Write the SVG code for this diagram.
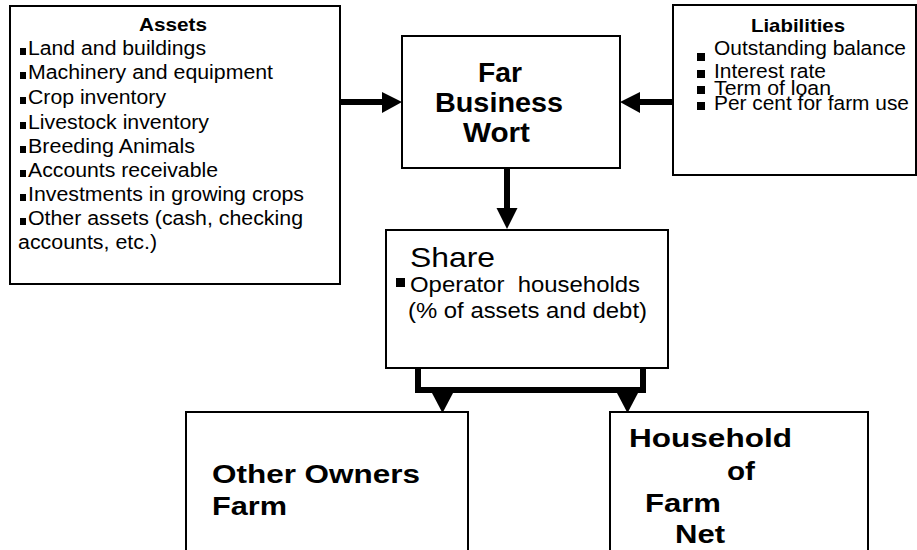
<svg xmlns="http://www.w3.org/2000/svg" width="917" height="550" viewBox="0 0 917 550">
<style>
.box{fill:#fff;stroke:#000;stroke-width:2}
.t{font-family:"Liberation Sans",Arial,sans-serif;fill:#000}
.b{font-weight:bold}
.con{stroke:#000;fill:none}
.head{fill:#000;stroke:none}
.bul{fill:#000}
</style>
<rect width="917" height="550" fill="#fff"/>
<g id="connectors">
<line class="con" x1="340" y1="102" x2="384" y2="102" stroke-width="6"/>
<polygon class="head" points="382,92 402,102 382,113"/>
<line class="con" x1="673" y1="102" x2="638" y2="102" stroke-width="6"/>
<polygon class="head" points="640,92 620,102 640,113"/>
<line class="con" x1="507" y1="168" x2="507" y2="210" stroke-width="6"/>
<polygon class="head" points="496.5,208 517.5,208 507,229"/>
<polyline class="con" points="418,366 418,390 643,390 643,366" stroke-width="6"/>
<polygon class="head" points="432,393 453,393 442.5,413"/>
<polygon class="head" points="617,393 638,393 627.5,413"/>
</g>
<g id="assets">
<rect class="box" x="10" y="6" width="330" height="278"/>
<text class="t b" x="173" y="31" font-size="19" text-anchor="middle" textLength="68" lengthAdjust="spacingAndGlyphs">Assets</text>
<g class="bul">
<rect x="20" y="48" width="6" height="7"/>
<rect x="20" y="72" width="6" height="7"/>
<rect x="20" y="97" width="6" height="7"/>
<rect x="20" y="122" width="6" height="7"/>
<rect x="20" y="146" width="6" height="7"/>
<rect x="20" y="170" width="6" height="7"/>
<rect x="20" y="194" width="6" height="7"/>
<rect x="20" y="218" width="6" height="7"/>
</g>
<g class="t" font-size="19.5">
<text x="28" y="55" textLength="178" lengthAdjust="spacingAndGlyphs">Land and buildings</text>
<text x="28" y="79" textLength="245" lengthAdjust="spacingAndGlyphs">Machinery and equipment</text>
<text x="28" y="104" textLength="138" lengthAdjust="spacingAndGlyphs">Crop inventory</text>
<text x="28" y="129" textLength="181" lengthAdjust="spacingAndGlyphs">Livestock inventory</text>
<text x="28" y="153" textLength="167" lengthAdjust="spacingAndGlyphs">Breeding Animals</text>
<text x="28" y="177" textLength="190" lengthAdjust="spacingAndGlyphs">Accounts receivable</text>
<text x="28" y="201" textLength="276" lengthAdjust="spacingAndGlyphs">Investments in growing crops</text>
<text x="28" y="225" textLength="275" lengthAdjust="spacingAndGlyphs">Other assets (cash, checking</text>
<text x="18" y="249" textLength="139" lengthAdjust="spacingAndGlyphs">accounts, etc.)</text>
</g>
</g>
<g id="far-business-worth">
<rect class="box" x="402" y="36" width="218" height="132"/>
<g class="t b" font-size="28">
<text x="478" y="82" textLength="44" lengthAdjust="spacingAndGlyphs">Far</text>
<text x="435" y="112" textLength="128" lengthAdjust="spacingAndGlyphs">Business</text>
<text x="463" y="142" textLength="67" lengthAdjust="spacingAndGlyphs">Wort</text>
</g>
</g>
<g id="liabilities">
<rect class="box" x="673" y="5" width="243" height="170"/>
<text class="t b" x="798" y="32" font-size="18.5" text-anchor="middle" textLength="94" lengthAdjust="spacingAndGlyphs">Liabilities</text>
<g class="bul">
<rect x="697" y="53" width="8" height="8"/>
<rect x="697" y="70" width="8" height="8"/>
<rect x="697" y="86" width="8" height="8"/>
<rect x="697" y="102" width="8" height="8"/>
</g>
<g class="t" font-size="20.5">
<text x="714" y="55" textLength="192" lengthAdjust="spacingAndGlyphs">Outstanding balance</text>
<text x="714" y="78" textLength="112" lengthAdjust="spacingAndGlyphs">Interest rate</text>
<text x="714" y="95" textLength="117" lengthAdjust="spacingAndGlyphs">Term of loan</text>
<text x="714" y="110" textLength="195" lengthAdjust="spacingAndGlyphs">Per cent for farm use</text>
</g>
</g>
<g id="share">
<rect class="box" x="386" y="230" width="282" height="138"/>
<text class="t" x="410" y="267" font-size="28" textLength="85" lengthAdjust="spacingAndGlyphs">Share</text>
<rect class="bul" x="396" y="278" width="9" height="9"/>
<text class="t" x="410" y="292" font-size="22" textLength="230" lengthAdjust="spacingAndGlyphs" xml:space="preserve">Operator  households</text>
<text class="t" x="408" y="318" font-size="22" textLength="239" lengthAdjust="spacingAndGlyphs">(% of assets and debt)</text>
</g>
<g id="other-owners">
<rect class="box" x="186" y="412" width="282" height="150"/>
<g class="t b" font-size="25.5">
<text x="212" y="483" textLength="208" lengthAdjust="spacingAndGlyphs">Other Owners</text>
<text x="212" y="515" textLength="75" lengthAdjust="spacingAndGlyphs">Farm</text>
</g>
</g>
<g id="household">
<rect class="box" x="610" y="412" width="258" height="150"/>
<g class="t b" font-size="26">
<text x="629" y="447" textLength="163" lengthAdjust="spacingAndGlyphs">Household</text>
<text x="727" y="480" textLength="28" lengthAdjust="spacingAndGlyphs">of</text>
<text x="645" y="512" textLength="76" lengthAdjust="spacingAndGlyphs">Farm</text>
<text x="675" y="543" textLength="50" lengthAdjust="spacingAndGlyphs">Net</text>
</g>
</g>
</svg>
